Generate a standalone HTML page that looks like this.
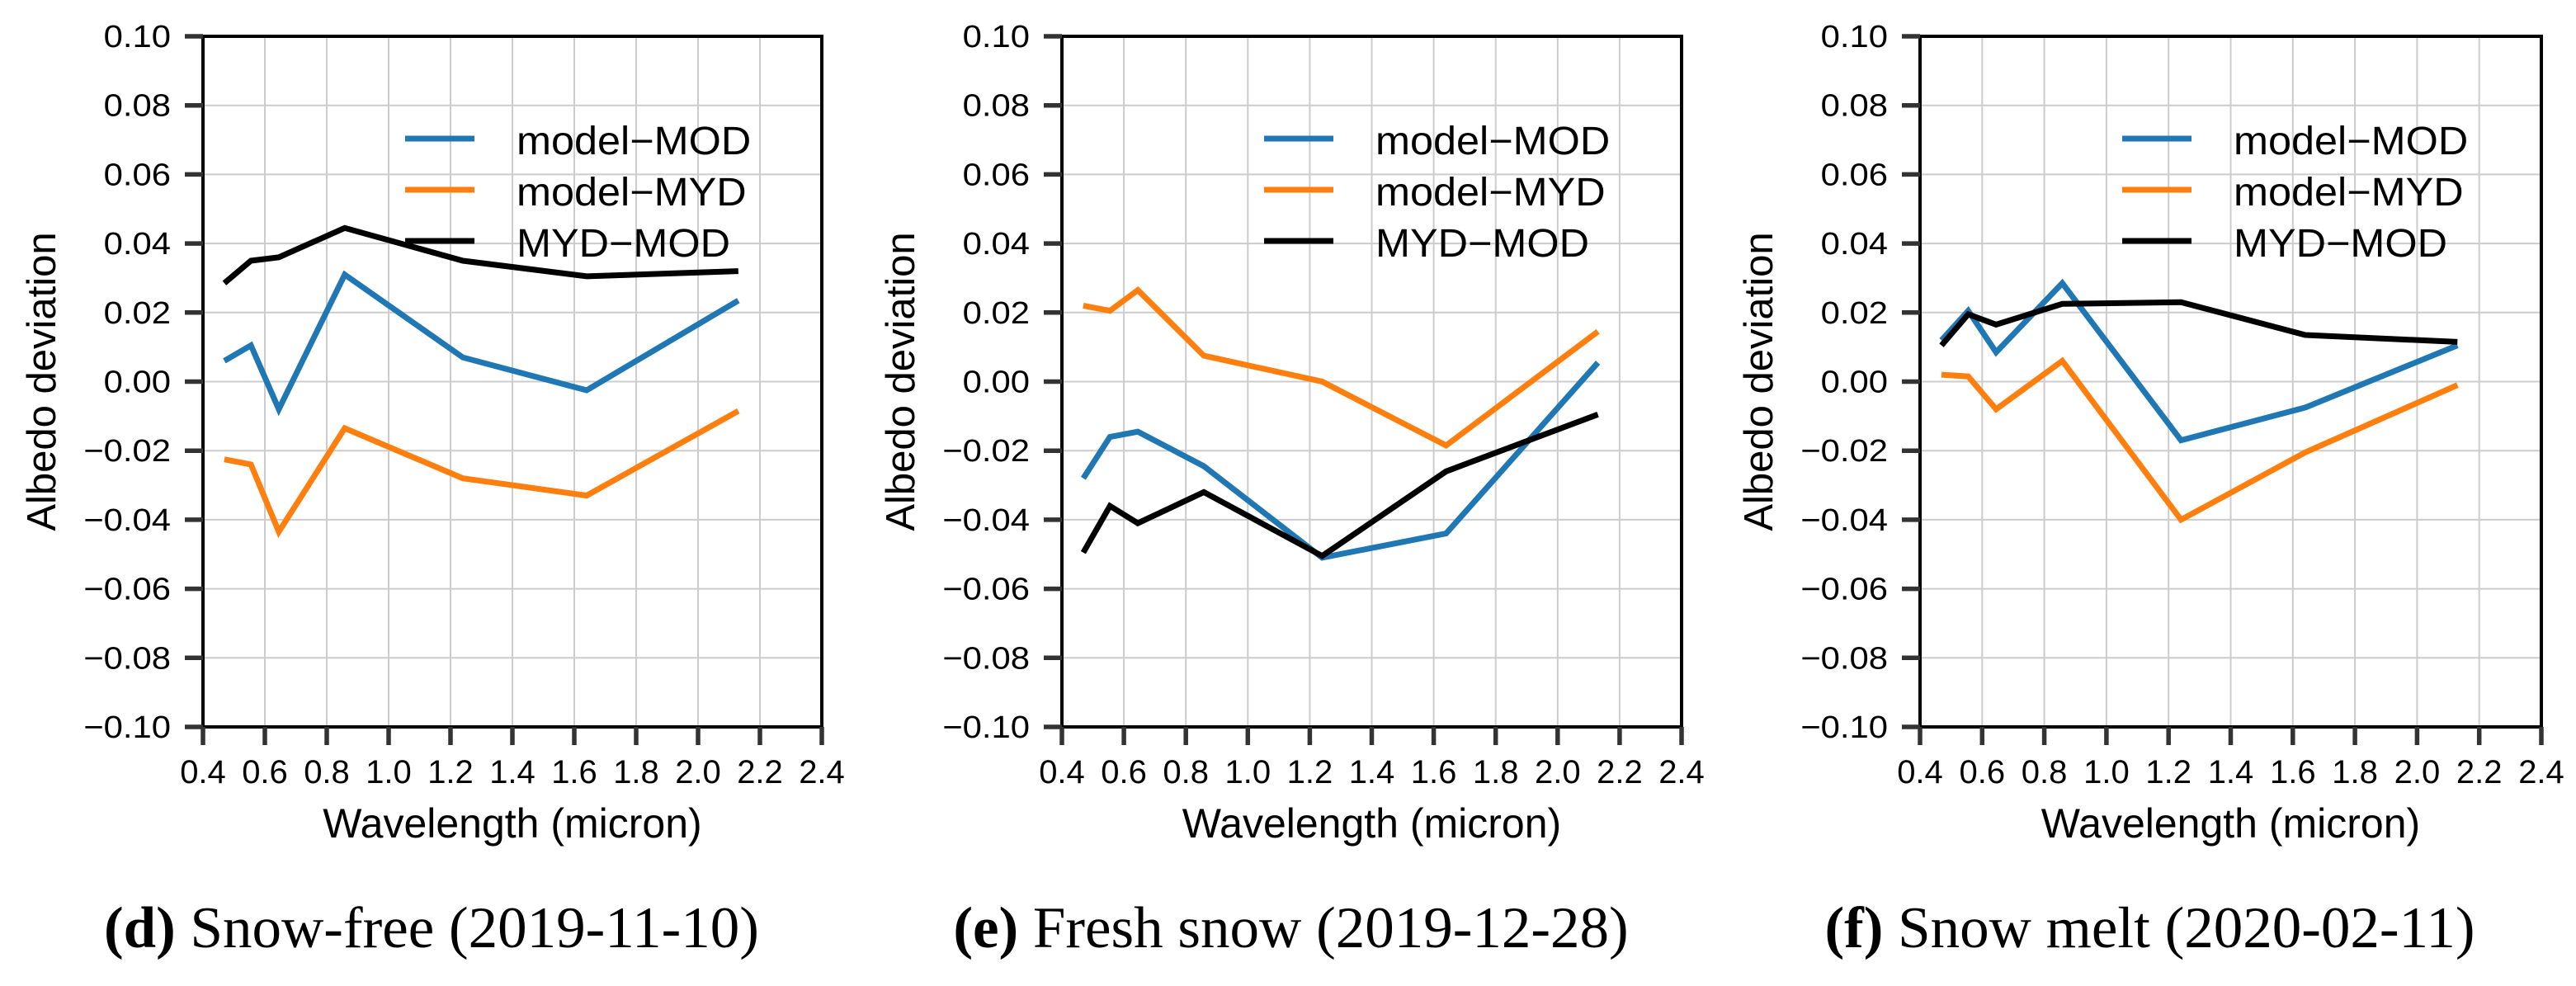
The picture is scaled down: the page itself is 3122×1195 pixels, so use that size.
<!DOCTYPE html>
<html><head><meta charset="utf-8"><style>
html,body{margin:0;padding:0;background:#fff;}
svg{display:block;}
</style></head><body>
<svg id="fig" width="3122" height="1195" xmlns="http://www.w3.org/2000/svg"></svg>
<script>
const wavelengths=[0.469,0.555,0.645,0.858,1.24,1.64,2.13];
const xTicks=[0.4,0.6,0.8,1.0,1.2,1.4,1.6,1.8,2.0,2.2,2.4];
const yTicks=[0.10,0.08,0.06,0.04,0.02,0.00,-0.02,-0.04,-0.06,-0.08,-0.10];
const seriesNames=["model\u2212MOD","model\u2212MYD","MYD\u2212MOD"];
const seriesColors=["#1f77b4","#ff7f0e","#000000"];
const dModMOD=[0.006,0.0105,-0.008,0.031,0.007,-0.0025,0.0235];
const dModMYD=[-0.0225,-0.024,-0.0435,-0.0135,-0.028,-0.033,-0.0085];
const dMYDMOD=[0.0285,0.035,0.036,0.0445,0.035,0.0305,0.032];
const eModMOD=[-0.028,-0.016,-0.0145,-0.0245,-0.051,-0.044,0.0055];
const eModMYD=[0.022,0.0205,0.0265,0.0075,0.0,-0.0185,0.0145];
const eMYDMOD=[-0.0495,-0.036,-0.041,-0.032,-0.0505,-0.026,-0.0095];
const fModMOD=[0.012,0.0205,0.0085,0.0285,-0.017,-0.0075,0.0105];
const fModMYD=[0.002,0.0015,-0.008,0.006,-0.040,-0.0205,-0.001];
const fMYDMOD=[0.0105,0.0195,0.0165,0.0225,0.023,0.0135,0.0115];
const captionLetters=["d","e","f"];
const captionTexts=[" Snow-free (2019-11-10)"," Fresh snow (2019-12-28)"," Snow melt (2020-02-11)"];

const NS="http://www.w3.org/2000/svg";
const svgEl=document.getElementById('fig');
function mk(tag,attrs,parent){const e=document.createElementNS(NS,tag);for(const k in attrs)e.setAttribute(k,attrs[k]);(parent||svgEl).appendChild(e);return e;}
const panels=[
 {left:246,right:996,data:[dModMOD,dModMYD,dMYDMOD]},
 {left:1287,right:2038,data:[eModMOD,eModMYD,eMYDMOD]},
 {left:2327,right:3080,data:[fModMOD,fModMYD,fMYDMOD]}
];
const plotTop=44,plotBottom=881;
const fontSans='"Liberation Sans", Arial, sans-serif';
panels.forEach((p,pi)=>{
  const g=mk('g',{});
  
  
  const xs=v=>p.left+(v-0.4)/2.0*(p.right-p.left);
  const ys=v=>plotTop+(0.10-v)/0.20*(plotBottom-plotTop);
  xTicks.forEach(t=>{const l=mk('line',{x1:xs(t),x2:xs(t),y1:plotTop,y2:plotBottom,stroke:'#cccccc','stroke-width':2},g);
    
    });
  yTicks.forEach(t=>{const l=mk('line',{x1:p.left,x2:p.right,y1:ys(t),y2:ys(t),stroke:'#cccccc','stroke-width':2},g);
    
    });
  p.data.forEach((arr,si)=>{
    const pts=arr.map((v,i)=>xs(wavelengths[i]).toFixed(1)+','+ys(v).toFixed(1)).join(' ');
    const pl=mk('polyline',{points:pts,fill:'none',stroke:seriesColors[si],'stroke-width':7,'stroke-linejoin':'miter'},g);
    
    
  });
  const fr=mk('rect',{x:p.left,y:plotTop,width:p.right-p.left,height:plotBottom-plotTop,fill:'none',stroke:'#000','stroke-width':4},g);
  
  
  yTicks.forEach(t=>{
    const tk=mk('line',{x1:p.left-22,x2:p.left,y1:ys(t),y2:ys(t),stroke:'#333','stroke-width':5.5},g);
    
    
    const tx=mk('text',{x:0,y:0,transform:`translate(${p.left-39},${ys(t)+13}) scale(1.1,1)`,'text-anchor':'end','font-family':fontSans,'font-size':38,fill:'#000'},g);
    tx.textContent=(t<0?'\u2212':'')+Math.abs(t).toFixed(2);
    
    
  });
  xTicks.forEach(t=>{
    const tk=mk('line',{x1:xs(t),x2:xs(t),y1:plotBottom,y2:plotBottom+22,stroke:'#333','stroke-width':5.5},g);
    
    
    const tx=mk('text',{x:xs(t),y:949,'text-anchor':'middle','font-family':fontSans,'font-size':40,fill:'#000'},g);
    tx.textContent=t.toFixed(1);
    
    
  });
  const yt=mk('text',{x:0,y:0,transform:`translate(${p.left-179},${(plotTop+plotBottom)/2}) rotate(-90)`,'text-anchor':'middle','font-family':fontSans,'font-size':49,fill:'#000'},g);
  yt.textContent='Albedo deviation';
  
  
  const xt=mk('text',{x:(p.left+p.right)/2,y:1015,'text-anchor':'middle','font-family':fontSans,'font-size':50,fill:'#000'},g);
  xt.textContent='Wavelength (micron)';
  
  
  seriesNames.forEach((n,si)=>{
    const ly=168+si*62;
    const ll=mk('line',{x1:p.left+245,x2:p.left+329,y1:ly,y2:ly,stroke:seriesColors[si],'stroke-width':7},g);
    
    
    const lt=mk('text',{x:0,y:0,transform:`translate(${p.left+380},${ly+19}) scale(1.05,1)`,'font-family':fontSans,'font-size':48,fill:'#000'},g);
    lt.textContent=n;
    
    
  });
  const cap=mk('text',{x:(p.left+p.right)/2-98,y:1148,'text-anchor':'middle','font-family':'"Liberation Serif", serif','font-size':71,fill:'#000'},g);
  
  
  const b=mk('tspan',{'font-weight':'bold'},cap);b.textContent='('+captionLetters[pi]+')';
  const r=mk('tspan',{},cap);r.textContent=captionTexts[pi];
});
</script>
</body></html>
